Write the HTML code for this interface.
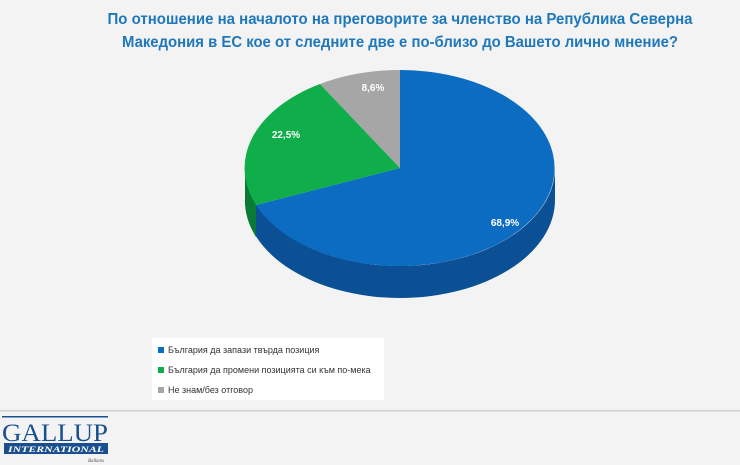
<!DOCTYPE html>
<html><head><meta charset="utf-8"><style>
body{margin:0;background:#f3f3f3;}
svg{display:block;}
text{font-family:"Liberation Sans",sans-serif;}
</style></head><body>
<svg width="740" height="465" viewBox="0 0 740 465" xmlns="http://www.w3.org/2000/svg">
<rect width="740" height="465" fill="#f3f3f3"/>
<text x="400" y="24" text-anchor="middle" font-size="16" font-weight="bold" fill="#1f78bb" textLength="585" lengthAdjust="spacingAndGlyphs">По отношение на началото на преговорите за членство на Република Северна</text>
<text x="400" y="47" text-anchor="middle" font-size="16" font-weight="bold" fill="#1f78bb" textLength="556" lengthAdjust="spacingAndGlyphs">Македония в ЕС кое от следните две е по-близо до Вашето лично мнение?</text>
<!-- side -->
<path d="M245,168 A155,98 0 0 0 555,168 L555,200 A155,98 0 0 1 245,200 Z" fill="#0b4f94"/>
<path d="M245,168 A155,98 0 0 0 256,205 L256,237 A155,98 0 0 1 245,200 Z" fill="#0a7a35"/>
<!-- top -->
<path d="M400,168 L400,70 A155,98 0 1 1 256,205 Z" fill="#0b6cc2"/>
<path d="M400,168 L256,205 A155,98 0 0 1 320,84 Z" fill="#0fae4a"/>
<path d="M400,168 L320,84 A155,98 0 0 1 400,70 Z" fill="#a6a6a6"/>
<text x="373" y="91" font-size="10" font-weight="bold" fill="#fff" text-anchor="middle">8,6%</text>
<text x="286" y="138" font-size="10" font-weight="bold" fill="#fff" text-anchor="middle">22,5%</text>
<text x="505" y="226" font-size="10" font-weight="bold" fill="#fff" text-anchor="middle">68,9%</text>
<!-- legend -->
<rect x="152" y="338" width="232" height="62" fill="#fff"/>
<rect x="158" y="347" width="6" height="6" fill="#0b6cc2"/>
<text x="168" y="353" font-size="9" fill="#333">България да запази твърда позиция</text>
<rect x="158" y="367" width="6" height="6" fill="#0fae4a"/>
<text x="168" y="373" font-size="9" fill="#333">България да промени позицията си към по-мека</text>
<rect x="158" y="387" width="6" height="6" fill="#a6a6a6"/>
<text x="168" y="393" font-size="9" fill="#333">Не знам/без отговор</text>
<!-- separator -->
<rect x="0" y="410" width="740" height="1.5" fill="#d0d0d0"/>
<!-- logo -->
<rect x="2" y="416" width="106" height="1.5" fill="#1a4f8f"/>
<text x="55" y="441" font-size="25" fill="#1a4f8f" text-anchor="middle" textLength="106" lengthAdjust="spacingAndGlyphs" style="font-family:'Liberation Serif',serif">GALLUP</text>
<rect x="4" y="443" width="104" height="11" fill="#1a4f8f"/>
<text x="56" y="452" font-size="8.5" font-weight="bold" font-style="italic" fill="#fff" text-anchor="middle" textLength="96" lengthAdjust="spacingAndGlyphs" style="font-family:'Liberation Serif',serif">INTERNATIONAL</text>
<text x="88" y="462" font-size="5" font-style="italic" fill="#555" style="font-family:'Liberation Serif',serif">Balkans</text>
</svg>
</body></html>
